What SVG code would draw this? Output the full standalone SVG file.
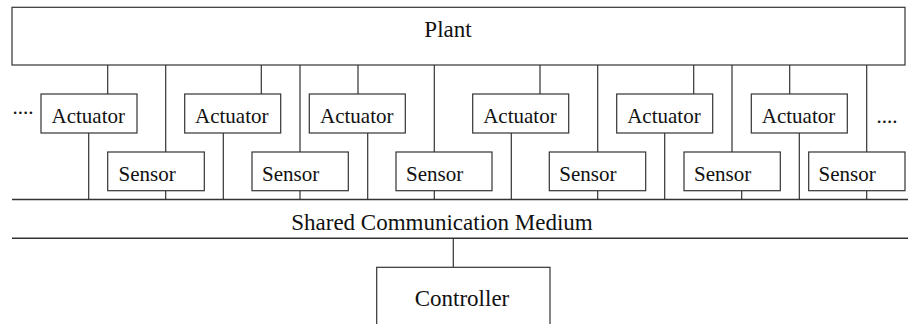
<svg xmlns="http://www.w3.org/2000/svg" width="908" height="324" viewBox="0 0 908 324">
<style>
.box{fill:#fff;stroke:#333;stroke-width:1.2}
.ln{stroke:#333;stroke-width:1.2;fill:none}
.bus{stroke:#333;stroke-width:1.6;fill:none}
.t{font-family:"Liberation Serif","Times New Roman",serif;font-size:21px;fill:#111}
.tl{font-family:"Liberation Serif","Times New Roman",serif;font-size:23px;fill:#111}
</style>
<rect width="908" height="324" fill="#fff"/>
<g id="connectors">
<path class="ln" d="M107.7 65V94M261.3 65V94M358 65V94M540 65V94M693.7 65V94M789.7 65V94"/>
<path class="ln" d="M165.7 65V152M300 65V152M434.3 65V152M597.7 65V152M732 65V152M866.7 65V152"/>
<path class="ln" d="M165.7 191V200M300 191V200M434.3 191V200M597.7 191V200M741.7 191V200M866.7 191V200"/>
<path class="ln" d="M88.7 133V200M223.3 133V200M367.7 133V200M511.3 133V200M664.7 133V200M799.3 133V200"/>
<path class="ln" d="M453.3 238V267"/>
</g>
<g id="plant"><rect class="box" x="12" y="7.3" width="893" height="57.7"/><text class="tl" x="448" y="36.7" text-anchor="middle">Plant</text></g>
<g id="bus"><path class="bus" d="M12 199.5H908M12 238.3H908"/><text class="tl" x="442" y="230" text-anchor="middle">Shared Communication Medium</text></g>
<g id="act1"><rect class="box" x="41" y="94" width="96" height="39"/><text class="t" x="51.5" y="123.3">Actuator</text></g>
<g id="act2"><rect class="box" x="184.7" y="94" width="96" height="39"/><text class="t" x="195" y="123.3">Actuator</text></g>
<g id="act3"><rect class="box" x="309.3" y="94" width="96" height="39"/><text class="t" x="320" y="123.3">Actuator</text></g>
<g id="act4"><rect class="box" x="472.7" y="94" width="96" height="39"/><text class="t" x="483.2" y="123.3">Actuator</text></g>
<g id="act5"><rect class="box" x="616.7" y="94" width="96" height="39"/><text class="t" x="627.2" y="123.3">Actuator</text></g>
<g id="act6"><rect class="box" x="751.3" y="94" width="96" height="39"/><text class="t" x="761.8" y="123.3">Actuator</text></g>
<g id="sen1"><rect class="box" x="107.7" y="152" width="96.6" height="38.7"/><text class="t" x="118.5" y="181">Sensor</text></g>
<g id="sen2"><rect class="box" x="252" y="152" width="96.3" height="38.7"/><text class="t" x="262" y="181">Sensor</text></g>
<g id="sen3"><rect class="box" x="396" y="152" width="96" height="38.7"/><text class="t" x="406" y="181">Sensor</text></g>
<g id="sen4"><rect class="box" x="549.3" y="152" width="96.4" height="38.7"/><text class="t" x="559.3" y="181">Sensor</text></g>
<g id="sen5"><rect class="box" x="684" y="152" width="96.3" height="38.7"/><text class="t" x="694" y="181">Sensor</text></g>
<g id="sen6"><rect class="box" x="808.7" y="152" width="96.3" height="38.7"/><text class="t" x="818.5" y="181">Sensor</text></g>
<g id="dots-left"><text class="t" x="12.5" y="114">....</text></g>
<g id="dots-right"><text class="t" x="876.5" y="122.5">....</text></g>
<g id="controller"><rect class="box" x="376.7" y="267.3" width="173.3" height="70"/><text class="tl" x="462" y="305.7" text-anchor="middle">Controller</text></g>
</svg>
